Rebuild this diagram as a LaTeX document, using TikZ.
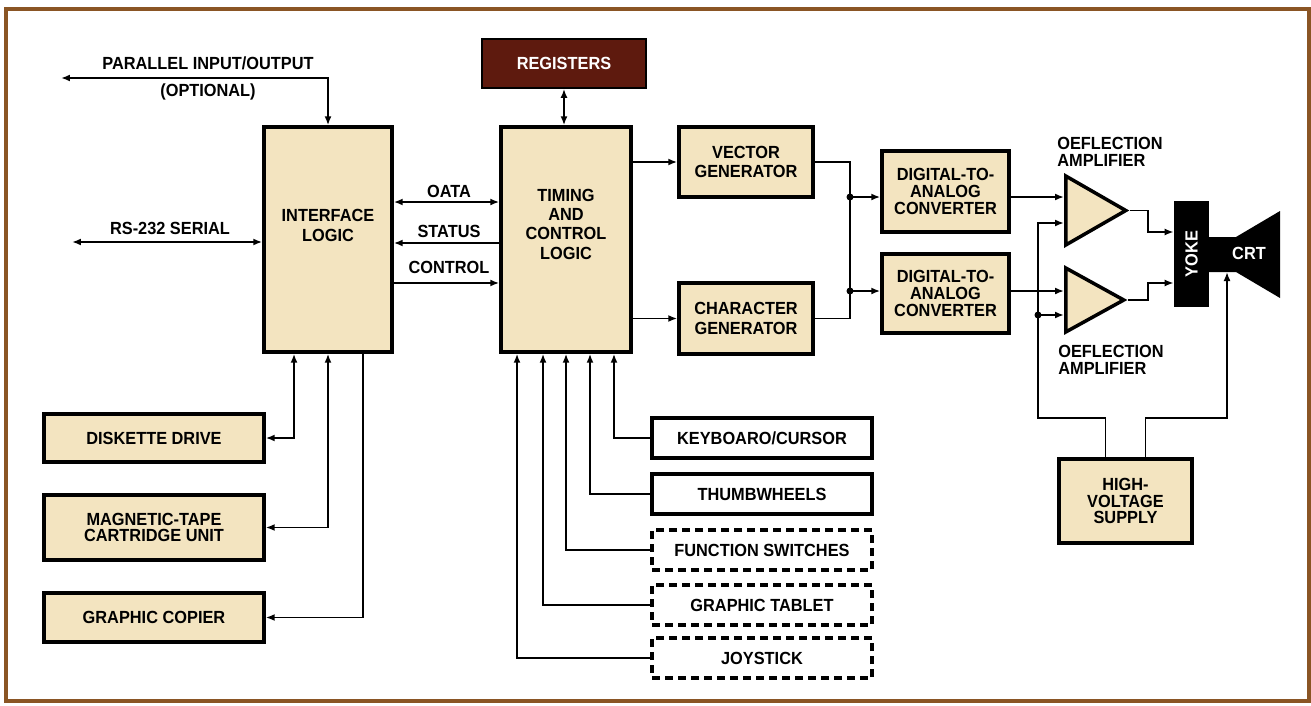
\documentclass[tikz,border=0pt]{standalone}
\usepackage{fontspec}
\usepackage{graphicx}
\setmainfont{Liberation Sans}[FakeStretch=0.93]
\usetikzlibrary{shapes.geometric, arrows.meta, positioning, calc}
\definecolor{boxFill}{HTML}{F3E4C0}
\definecolor{regFill}{HTML}{5E1A0E}
\definecolor{frameBrown}{HTML}{8A5524}

\begin{document}
\begin{tikzpicture}[
    x=0.02cm, y=-0.02cm,
    font=\bfseries\fontsize{10}{11}\selectfont,
    blk/.style={
        rectangle, draw=black, fill=boxFill,
        line width=2pt, align=center, inner sep=2pt
    },
    tight/.style={font=\bfseries\fontsize{10}{9.6}\selectfont},
    inbox/.style={
        rectangle, draw=black, fill=white,
        line width=2pt, align=center,
        minimum width=4.4cm, minimum height=0.8cm
    },
    optbox/.style={inbox, dash pattern=on 0.16cm off 0.1cm},
    amp/.style={
        isosceles triangle, isosceles triangle stretches,
        draw=black, fill=boxFill, line width=2pt,
        minimum width=1.38cm, minimum height=1.2cm,
        inner sep=0pt, anchor=lower side
    },
    wire/.style={draw=black, line width=1pt},
    arrow/.style={
        -{Latex[length=1.8mm,width=1.4mm]},
        draw=black, line width=1pt
    },
    dbl/.style={
        {Latex[length=1.8mm,width=1.4mm]}-{Latex[length=1.8mm,width=1.4mm]},
        draw=black, line width=1pt
    },
    lbl/.style={inner sep=0pt, align=left, tight}
]
    \useasboundingbox (0,0) rectangle (1311,706);
    \draw[frameBrown, line width=0.08cm] (6,9) rectangle (1309,701);

    % main blocks
    \node[blk, minimum width=2.56cm, minimum height=4.5cm, text depth=0.56cm] (iface) at (328,239.5) {INTERFACE\\LOGIC};
    \node[blk, minimum width=2.6cm, minimum height=4.5cm, text depth=0.62cm] (timing) at (566,239.5) {TIMING\\AND\\CONTROL\\LOGIC};
    \node[draw=black, fill=regFill, text=white, line width=1pt, minimum width=3.28cm, minimum height=0.98cm] (regs) at (564,63.5) {REGISTERS};
    \node[blk, minimum width=2.68cm, minimum height=1.4cm] (vec) at (746,162) {VECTOR\\GENERATOR};
    \node[blk, minimum width=2.68cm, minimum height=1.42cm] (chr) at (746,318.5) {CHARACTER\\GENERATOR};
    \node[blk, tight, minimum width=2.54cm, minimum height=1.62cm] (dac1) at (945.5,191.5) {DIGITAL-TO-\\ANALOG\\CONVERTER};
    \node[blk, tight, minimum width=2.54cm, minimum height=1.58cm] (dac2) at (945.5,293.5) {DIGITAL-TO-\\ANALOG\\CONVERTER};
    \node[amp] (amp1) at (1064,210.5) {};
    \node[amp, minimum width=1.28cm, minimum height=1.16cm] (amp2) at (1064,300) {};
    \node[fill=black, text=white, inner sep=0pt, minimum width=0.7cm, minimum height=2.12cm] (yoke) at (1191.5,254) {\rotatebox{90}{YOKE}};
    \fill (1208,237) -- (1236,237) -- (1280,211) -- (1280,298) -- (1236,272) -- (1208,272) -- cycle;
    \node[text=white, inner sep=0pt] (crt) at (1249,253) {CRT};
    \node[blk, tight, minimum width=2.66cm, minimum height=1.68cm] (hv) at (1125.5,501) {HIGH-\\VOLTAGE\\SUPPLY};

    % storage devices
    \node[blk, minimum width=4.4cm, minimum height=0.96cm] (disk) at (154,438) {DISKETTE DRIVE};
    \node[blk, tight, minimum width=4.4cm, minimum height=1.3cm, below=0.59cm of disk] (tape) {MAGNETIC-TAPE\\CARTRIDGE UNIT};
    \node[blk, minimum width=4.4cm, minimum height=0.98cm, below=0.59cm of tape] (copier) {GRAPHIC COPIER};

    % input devices
    \node[inbox] (key) at (762,438) {KEYBOARO/CURSOR};
    \node[inbox, below=0.25cm of key] (thumb) {THUMBWHEELS};
    \node[optbox, below=0.25cm of thumb] (func) {FUNCTION SWITCHES};
    \node[optbox, below=0.23cm of func] (tablet) {GRAPHIC TABLET};
    \node[optbox, below=0.19cm of tablet] (joy) {JOYSTICK};

    % labels
    \node (partxt) at (208,63) {PARALLEL INPUT/OUTPUT};
    \node (opttxt) at (208,92) {(OPTIONAL)};
    \node (rstxt) at (170,228) {RS-232 SERIAL};
    \node (datatxt) at (449,191) {OATA};
    \node (stattxt) at (449,231) {STATUS};
    \node (ctrltxt) at (449,267) {CONTROL};
    \node[lbl, anchor=west] (deftop) at (1057,152) {OEFLECTION\\AMPLIFIER};
    \node[lbl, anchor=west] (defbot) at (1058,360) {OEFLECTION\\AMPLIFIER};

    \coordinate (parout) at (61,78);
    \coordinate (rsout) at (72,242);
    \coordinate (bus) at (850,0);
    \coordinate (hvbus) at (1038,0);
    \coordinate (yokebus) at (1148,0);
    \coordinate (crtin) at (1227,272);
    \coordinate (a1in) at ([yshift=0.27cm]amp1.lower side);
    \coordinate (a1hv) at ([yshift=-0.25cm]amp1.lower side);
    \coordinate (a2in) at ([yshift=0.18cm]amp2.lower side);
    \coordinate (a2hv) at ([yshift=-0.3cm]amp2.lower side);

    \draw[dbl] (parout) -| (iface.north);
    \draw[dbl] (rsout) -- (rsout -| iface.west);
    \draw[dbl] ([yshift=0.75cm]iface.east) -- ([yshift=0.75cm]timing.west);
    \draw[arrow] ([yshift=-0.07cm]timing.west) -- ([yshift=-0.07cm]iface.east);
    \draw[arrow] ([yshift=-0.87cm]iface.east) -- ([yshift=-0.87cm]timing.west);
    \draw[dbl] (regs.south) -- (regs.south |- timing.north);

    \draw[arrow] (timing.east |- vec) -- (vec);
    \draw[arrow] (timing.east |- chr) -- (chr);
    \draw[wire] (vec.east) -| (bus |- chr.east) -- (chr.east);
    \fill (bus |- a1in) circle[radius=0.07cm];
    \fill (bus |- a2in) circle[radius=0.07cm];
    \draw[arrow] (bus |- a1in) -- (dac1.west |- a1in);
    \draw[arrow] (bus |- a2in) -- (dac2.west |- a2in);
    \draw[arrow] (dac1.east |- a1in) -- (a1in);
    \draw[arrow] (dac2.east |- a2in) -- (a2in);

    \draw[arrow] ([xshift=-0.4cm]hv.north) -- ++(0,0.78cm) -| (hvbus |- a1hv) -- (a1hv);
    \fill (hvbus |- a2hv) circle[radius=0.07cm];
    \draw[arrow] (hvbus |- a2hv) -- (a2hv);
    \draw[arrow] ([xshift=0.4cm]hv.north) -- ++(0,0.78cm) -| (crtin);

    \draw[arrow] (amp1.apex) -- (yokebus |- amp1.apex) |- ([yshift=0.44cm]yoke.west);
    \draw[arrow] (amp2.apex) -- (yokebus |- amp2.apex) |- ([yshift=-0.58cm]yoke.west);

    \draw[dbl] (disk.east) -| ([xshift=-0.68cm]iface.south);
    \draw[dbl] (tape.east) -| (iface.south);
    \draw[arrow] ([xshift=0.7cm]iface.south) |- (copier.east);

    \foreach \dev/\dx in {key/0.96, thumb/0.48, func/0, tablet/-0.46, joy/-0.98}
        \draw[arrow] (\dev.west) -| ([xshift=\dx cm]timing.south);
\end{tikzpicture}
\end{document}
